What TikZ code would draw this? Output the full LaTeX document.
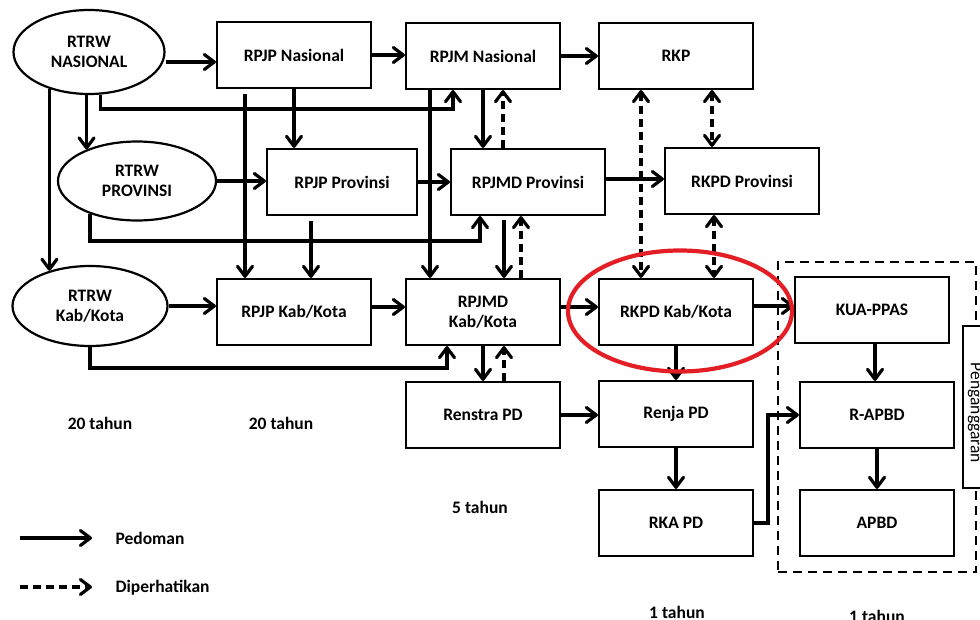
\documentclass[tikz,border=0pt]{standalone}
\usepackage{fontspec}
\setmainfont{Carlito}
\usetikzlibrary{arrows.meta,shapes.geometric}
\definecolor{hl}{RGB}{228,30,37}
\begin{document}
\begin{tikzpicture}[x=1pt,y=-1pt,
  txt/.style={font=\fontsize{17.5}{20.5}\selectfont\bfseries},
  box/.style={txt, draw, line width=2.2pt, minimum width=154pt, minimum height=66pt, inner sep=0pt, align=center},
  oval/.style={txt, ellipse, draw, line width=2.2pt, inner sep=0pt, align=center},
  tip/.tip={Straight Barb[length=10pt,width=15pt,round]},
  pd/.style={line width=3.2pt, -tip},
  dp/.style={pd, dash pattern=on 8pt off 5pt},
  dd/.style={line width=3.2pt, dash pattern=on 8pt off 5pt, tip-tip}]
\useasboundingbox (0,0) rectangle (980,620);
% nodes
\node[oval, minimum width=151pt, minimum height=84pt] (rtrwn) at (89,52) {RTRW\\NASIONAL};
\node[box] (rpjpn) at (294,55) {RPJP Nasional};
\node[box] (rpjmn) at (483,56) {RPJM Nasional};
\node[box] (rkp) at (676,56) {RKP};
\node[oval, minimum width=158pt, minimum height=79pt] (rtrwp) at (137,181) {RTRW\\PROVINSI};
\node[box, minimum width=150pt] (rpjpp) at (342,182) {RPJP Provinsi};
\node[box] (rpjmdp) at (528,182) {RPJMD Provinsi};
\node[box] (rkpdp) at (742,181) {RKPD Provinsi};
\node[oval, minimum width=155pt, minimum height=80pt] (rtrwk) at (90,306) {RTRW\\Kab/Kota};
\node[box] (rpjpk) at (294,312) {RPJP Kab/Kota};
\node[box] (rpjmdk) at (483,312) {RPJMD\\Kab/Kota};
\node[box] (rkpdk) at (676,312) {RKPD Kab/Kota};
\node[box] (kua) at (872,310) {KUA-PPAS};
\node[box] (renstra) at (483,415) {Renstra PD};
\node[box] (renja) at (676,414) {Renja PD};
\node[box] (rapbd) at (877,415) {R-APBD};
\node[box] (rka) at (676,523) {RKA PD};
\node[box] (apbd) at (877,523) {APBD};
% budgeting frame
\node[draw, line width=2pt, dash pattern=on 9pt off 6pt, minimum width=198pt, minimum height=310pt, inner sep=0pt] (angg) at (877,417) {};
\node[draw, fill=white, line width=2pt, minimum width=34pt, minimum height=161pt, inner sep=0pt] (pang) at (980,407) {};
\node[rotate=-90, inner sep=0pt, font=\fontsize{17.5}{20}\selectfont] (pangt) at (975,413) {Penganggaran};
% labels
\node[txt] (t1) at (100,423) {20 tahun};
\node[txt] (t2) at (281,423) {20 tahun};
\node[txt] (t3) at (480,507) {5 tahun};
\node[txt] (t4) at (677,612) {1 tahun};
\node[txt] (t5) at (877,616) {1 tahun};
% legend
\coordinate (l1a) at (20,538);
\coordinate (l1b) at (92,538);
\coordinate (l2a) at (20,587);
\coordinate (l2b) at (92,587);
\draw[pd] (l1a) -- (l1b);
\draw[dp] (l2a) -- (l2b);
\node[txt, anchor=west] (lg1) at (112,538) {Pedoman};
\node[txt, anchor=west] (lg2) at (112,588) {Diperhatikan};
% row 1 connectors
\draw[pd] (rtrwn.east |- 0,62) -- (rpjpn.west |- 0,62);
\draw[pd] (rpjpn.east) -- (rpjpn.east -| rpjmn.west);
\draw[pd] (rpjmn.east) -- (rkp.west);
% from RTRW Nasional
\draw[pd] (rtrwp.148 |- rtrwn.south) -- (rtrwp.148);
\draw[pd] (rtrwn.223) -- (rtrwn.223 |- rtrwk.139);
\draw[pd] (rtrwn.285) |- ([xshift=-30pt]rpjmn.south |- 0,109) -- ([xshift=-30pt]rpjmn.south);
% from RPJP Nasional
\draw[pd] (rpjpn.south) -- (rpjpn.south |- rpjpp.north);
\draw[pd] ([xshift=-49pt,yshift=-5pt]rpjpn.south) -- ([xshift=-49pt]rpjpn.south |- rpjpk.north);
% from RPJM Nasional
\draw[pd] (rpjmn.south) -- (rpjmn.south |- rpjmdp.north);
\draw[dp] ([xshift=20pt]rpjmn.south |- rpjmdp.north) -- ([xshift=20pt]rpjmn.south);
\draw[pd] ([xshift=-53pt]rpjmn.south) -- ([xshift=-53pt]rpjmn.south |- rpjmdk.north);
% row 2
\draw[pd] (rtrwp.east) -- (rtrwp.east -| rpjpp.west);
\draw[pd] (rpjpp.east) -- (rpjpp.east -| rpjmdp.west);
\draw[pd] ([yshift=3pt]rpjmdp.east) -- ([yshift=3pt]rpjmdp.east -| rkpdp.west);
\draw[pd] (rtrwp.215) |- ([xshift=-48pt]rpjmdp.south |- 0,241) -- ([xshift=-48pt]rpjmdp.south);
\draw[pd] ([xshift=-31pt,yshift=-5pt]rpjpp.south) -- ([xshift=-31pt]rpjpp.south |- rpjpk.north);
\draw[pd] ([xshift=-24pt,yshift=-4pt]rpjmdp.south) -- ([xshift=-24pt]rpjmdp.south |- rpjmdk.north);
\draw[dp] ([xshift=-7pt]rpjmdp.south |- rpjmdk.north) -- ([xshift=-7pt]rpjmdp.south);
% row 3
\draw[pd] (rtrwk.east) -- (rtrwk.east -| rpjpk.west);
\draw[pd] ([yshift=5pt]rpjpk.east) -- ([yshift=5pt]rpjpk.east -| rpjmdk.west);
\draw[pd] (rtrwk.south) |- ([xshift=-36pt]rpjmdk.south |- 0,368) -- ([xshift=-36pt]rpjmdk.south);
\draw[pd] ([yshift=5pt]rpjmdk.east) -- ([yshift=5pt]rpjmdk.east -| rkpdk.west);
\draw[pd] ([yshift=6pt]rkpdk.east) -- ([yshift=6pt]rkpdk.east -| kua.west);
\draw[pd] (rpjmdk.south) -- (renstra.north);
\draw[dp] ([xshift=21pt]renstra.north) -- ([xshift=21pt]rpjmdk.south);
% dashed double links
\draw[dd] ([xshift=-35pt]rkp.south) -- ([xshift=-35pt]rkp.south |- rkpdk.north);
\draw[dd] ([xshift=36pt]rkp.south) -- ([xshift=36pt]rkp.south |- rkpdp.north);
\draw[dd] ([xshift=-28pt]rkpdp.south) -- ([xshift=-28pt]rkpdp.south |- rkpdk.north);
% lower part
\draw[pd] (renstra.east) -- (renstra.east -| renja.west);
\draw[pd] (rkpdk.south) -- (renja.north);
\draw[pd] (renja.south) -- (rka.north);
\draw[pd] (rka.east) -| ([xshift=-31pt]rapbd.west) -- (rapbd.west);
\draw[pd] ([xshift=3pt]kua.south) -- ([xshift=3pt]kua.south |- rapbd.north);
\draw[pd] (rapbd.south) -- (apbd.north);
% highlight
\node[draw=hl, line width=4.2pt, ellipse, minimum width=224pt, minimum height=121pt, inner sep=0pt] (hlring) at (680,311) {};
\end{tikzpicture}
\end{document}
